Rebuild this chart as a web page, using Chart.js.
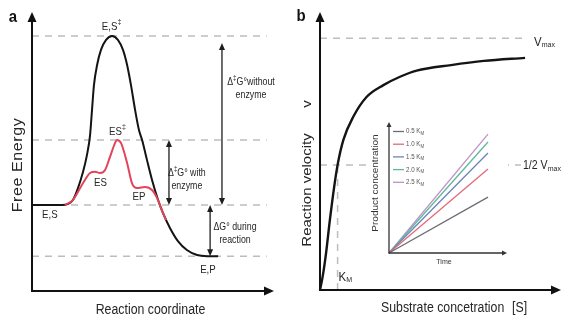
<!DOCTYPE html>
<html>
<head>
<meta charset="utf-8">
<script src="https://cdn.jsdelivr.net/npm/chart.js@4.4.1/dist/chart.umd.min.js"></script>
<style>
  html, body { margin: 0; padding: 0; background: #fff; }
  #stage { position: relative; width: 568px; height: 325px; overflow: hidden; }
  canvas { position: absolute; }
  #panelA { left: 0; top: 0; }
  #panelB { left: 284px; top: 0; }
  #inset { left: 367px; top: 112px; background: #fff; }
</style>
</head>
<body>
<div id="stage">
  <canvas id="panelA" width="284" height="325"></canvas>
  <canvas id="panelB" width="284" height="325"></canvas>
  <canvas id="inset" width="141" height="160"></canvas>
</div>
<script>
// ======================================================
// DATA - panel a (reaction coordinate 0-100, free energy 0-100)
// ======================================================

const coordUncat = [0, 12.4, 14.9, 16.9, 19.0, 21.1, 22.7, 24.0, 24.8, 25.6, 26.9, 28.5, 30.6, 33.1,
  35.5, 37.6, 39.3, 40.9, 42.6, 44.2, 45.5, 47.5, 49.6, 52.1, 54.1, 57.0, 60.3, 64.0, 68.2, 72.3, 76.9];
const energyUncat = [30.8, 30.8, 31.2, 32.6, 36.9, 42.7, 48.7, 55.9, 64.9, 73.8, 81.0, 86.4, 90.0, 91.4,
  90.0, 86.4, 81.0, 73.8, 64.9, 57.7, 54.1, 47.0, 39.8, 32.6, 28.0, 22.6, 17.9, 14.7, 12.9, 12.5, 12.5];

const coordCat = [13.6, 16.9, 21.1, 24.0, 26.0, 28.1, 30.2, 32.2, 34.3, 35.1, 36.8, 39.3, 41.3, 43.4,
  46.7, 49.6, 51.7, 54.1, 55.4];
const energyCat = [30.8, 32.6, 38.7, 42.3, 42.7, 42.3, 43.4, 48.0, 53.0, 54.1, 53.0, 45.9, 38.7, 36.9,
  37.3, 36.2, 33.3, 28.0, 25.4];

const energyLevels = [91.4, 54.1, 30.8, 12.5];
const levelLineEnd = 97;

const stateLabels = ["E,S", "ES", "ES", "EP", "E,S", "E,P"];
const stateDagger = [true, true, false, false, false, false];
const stateCoord = [32.9, 35.3, 28.3, 44.2, 7.4, 72.7];
const stateEnergy = [94.6, 57.0, 38.7, 33.7, 27.2, 7.5];

const barrierCoord = [78.5, 56.6, 73.6];
const barrierFrom = [30.8, 30.8, 12.5];
const barrierTo = [88.9, 54.1, 30.8];
const barrierLines = [
  [[["Δ", 10], ["‡", 7, -4], ["G°without", 10]], [["enzyme", 10]]],
  [[["Δ", 10], ["‡", 7, -4], ["G° with", 10]], [["enzyme", 10]]],
  [[["ΔG° during", 10]], [["reaction", 10]]],
];
const barrierTextCoord = [90.5, 64.0, 83.9];
const barrierTextEnergy = [72.6, 40.0, 20.6];

// ======================================================
// DATA - panel b (substrate 0-100, velocity 0-100)
// ======================================================

const substrate = [0, 1.1, 2.5, 4.1, 5.9, 7.3, 9.7, 13.8, 19.4, 26.3, 33.2, 40.1, 54.4, 68.0, 85.1];
const velocity = [0, 4.8, 13.2, 25.2, 37.2, 45.0, 54.0, 62.3, 69.5, 73.7, 76.7, 78.9, 80.9, 82.4, 83.5];
const vMax = 90.6;
const halfVMax = 45.0;
const kM = 7.3;
const vMaxLineEnd = 86.3;
const halfLineEnd = 83.4;

// inset: product vs time for several [S]
const insetLabels = ["0.5", "1.0", "1.5", "2.0", "2.5"];
const insetTimeEnd = 83.9;
const insetProduct = [42.7, 64.1, 76.3, 84.7, 90.8];
const insetColors = ["#6c6c76", "#e06a78", "#6c84bb", "#5fb89c", "#bb93c6"];

// ======================================================
// DRAW HELPERS
// ======================================================

const FONT = "'Liberation Sans', Arial, sans-serif";
const TEXT_COLOR = "#262626";
const SQUEEZE = 0.88;

function toPoints(xs, ys) {
  return xs.map((x, i) => ({ x, y: ys[i] }));
}

// parts: [text, size, dy]
function drawRich(ctx, x, y, parts, align = "center", rotate = false, opts = {}) {
  ctx.save();
  ctx.translate(x, y);
  ctx.scale(SQUEEZE, 1);
  if (rotate) ctx.rotate(-Math.PI / 2);
  ctx.fillStyle = opts.color || TEXT_COLOR;
  ctx.textBaseline = "middle";
  ctx.textAlign = "left";
  if (opts.spacing) ctx.letterSpacing = opts.spacing;
  const weight = opts.bold ? "bold " : "";
  let total = 0;
  parts.forEach((p) => {
    ctx.font = `${weight}${p[1]}px ${FONT}`;
    total += ctx.measureText(p[0]).width;
  });
  let cx = align === "center" ? -total / 2 : align === "right" ? -total : 0;
  parts.forEach((p) => {
    ctx.font = `${weight}${p[1]}px ${FONT}`;
    ctx.fillText(p[0], cx, p[2] || 0);
    cx += ctx.measureText(p[0]).width;
  });
  ctx.restore();
}

function arrowHead(ctx, tipX, tipY, dirX, dirY, len, half) {
  const bx = tipX - dirX * len;
  const by = tipY - dirY * len;
  ctx.beginPath();
  ctx.moveTo(tipX, tipY);
  ctx.lineTo(bx - dirY * half, by + dirX * half);
  ctx.lineTo(bx + dirY * half, by - dirX * half);
  ctx.closePath();
  ctx.fill();
}

function drawAxes(ctx, area, width, len, half, color) {
  ctx.save();
  ctx.strokeStyle = color;
  ctx.fillStyle = color;
  ctx.lineWidth = width;
  ctx.beginPath();
  ctx.moveTo(area.left, area.top + len - 1);
  ctx.lineTo(area.left, area.bottom);
  ctx.lineTo(area.right - len + 1, area.bottom);
  ctx.stroke();
  arrowHead(ctx, area.left, area.top, 0, -1, len, half);
  arrowHead(ctx, area.right, area.bottom, 1, 0, len, half);
  ctx.restore();
}

function drawDoubleArrow(ctx, x, yA, yB) {
  const dir = yB < yA ? -1 : 1;
  ctx.save();
  ctx.strokeStyle = "#1e1e1e";
  ctx.fillStyle = "#1e1e1e";
  ctx.lineWidth = 1.3;
  ctx.beginPath();
  ctx.moveTo(x, yA + dir * 6);
  ctx.lineTo(x, yB - dir * 6);
  ctx.stroke();
  arrowHead(ctx, x, yA, 0, -dir, 7, 3);
  arrowHead(ctx, x, yB, 0, dir, 7, 3);
  ctx.restore();
}

function baseOptions(padding) {
  return {
    responsive: false,
    animation: false,
    devicePixelRatio: 1,
    events: [],
    layout: { padding },
    plugins: { legend: { display: false }, tooltip: { enabled: false } },
    elements: { point: { radius: 0 } },
    scales: {
      x: { type: "linear", min: 0, max: 100, display: false },
      y: { type: "linear", min: 0, max: 100, display: false },
    },
  };
}

function dashedLine(points, order) {
  return {
    data: points,
    borderColor: "#bdbdbd",
    borderWidth: 1.5,
    borderDash: [7, 6],
    tension: 0,
    clip: false,
    order,
  };
}

// ======================================================
// PANEL A
// ======================================================

const panelADecor = {
  id: "panelADecor",
  afterDatasetsDraw(chart) {
    const { ctx, chartArea: area, scales: { x, y } } = chart;
    drawAxes(ctx, area, 2, 10, 4.5, "#111");

    barrierCoord.forEach((c, i) => {
      drawDoubleArrow(ctx, x.getPixelForValue(c), y.getPixelForValue(barrierFrom[i]), y.getPixelForValue(barrierTo[i]));
      const tx = x.getPixelForValue(barrierTextCoord[i]);
      const ty = y.getPixelForValue(barrierTextEnergy[i]);
      drawRich(ctx, tx, ty - 6.5, barrierLines[i][0]);
      drawRich(ctx, tx, ty + 6.5, barrierLines[i][1]);
    });

    stateLabels.forEach((label, i) => {
      const parts = [[label, 11]];
      if (stateDagger[i]) parts.push(["‡", 8, -5]);
      drawRich(ctx, x.getPixelForValue(stateCoord[i]), y.getPixelForValue(stateEnergy[i]), parts);
    });

    drawRich(ctx, 13, 17, [["a", 17]], "center", false, { bold: true, color: "#111" });
    drawRich(ctx, 150.5, 310, [["Reaction coordinate", 14]]);
    drawRich(ctx, 18, 165, [["Free Energy", 16]], "center", true, { spacing: "0.6px" });
  },
};

new Chart(document.getElementById("panelA"), {
  type: "line",
  data: {
    datasets: [
      {
        data: toPoints(coordCat, energyCat),
        borderColor: "#e2445a",
        borderWidth: 2,
        cubicInterpolationMode: "monotone",
        clip: false,
        order: 0,
      },
      {
        data: toPoints(coordUncat, energyUncat),
        borderColor: "#141414",
        borderWidth: 2,
        cubicInterpolationMode: "monotone",
        clip: false,
        order: 1,
      },
      ...energyLevels.map((level) => dashedLine([{ x: 0, y: level }, { x: levelLineEnd, y: level }], 10)),
    ],
  },
  options: baseOptions({ left: 32, top: 12, right: 10, bottom: 34 }),
  plugins: [panelADecor],
});

// ======================================================
// PANEL B
// ======================================================

const panelBDecor = {
  id: "panelBDecor",
  afterDatasetsDraw(chart) {
    const { ctx, chartArea: area, scales: { x, y } } = chart;
    drawAxes(ctx, area, 2, 10, 4.5, "#111");

    drawRich(ctx, area.right - 27, y.getPixelForValue(vMax) + 4, [["V", 13], ["max", 8, 3]], "left");
    drawRich(ctx, x.getPixelForValue(halfLineEnd) + 2, y.getPixelForValue(halfVMax) + 1,
      [["1/2 V", 12], ["max", 8, 3]], "left");
    drawRich(ctx, x.getPixelForValue(kM) + 1, area.bottom - 13, [["K", 13], ["M", 8, 3]], "left");

    drawRich(ctx, 17, 16, [["b", 17]], "center", false, { bold: true, color: "#111" });
    drawRich(ctx, 23, 190, [["Reaction velocity", 15]], "center", true);
    drawRich(ctx, 23, 104, [["v", 15]], "center", true);
    drawRich(ctx, 97, 308, [["Substrate concetration", 14]], "left");
    drawRich(ctx, 228, 308, [["[S]", 14]], "left");
  },
};

new Chart(document.getElementById("panelB"), {
  type: "line",
  data: {
    datasets: [
      {
        data: toPoints(substrate, velocity),
        borderColor: "#141414",
        borderWidth: 2.4,
        cubicInterpolationMode: "monotone",
        clip: false,
        order: 0,
      },
      dashedLine([{ x: 0, y: vMax }, { x: vMaxLineEnd, y: vMax }], 10),
      dashedLine([{ x: 0, y: halfVMax }, { x: halfLineEnd, y: halfVMax }], 10),
      dashedLine([{ x: kM, y: 0 }, { x: kM, y: halfVMax }], 10),
    ],
  },
  options: baseOptions({ left: 36, top: 12, right: 7, bottom: 35 }),
  plugins: [panelBDecor],
});

// ======================================================
// INSET
// ======================================================

const insetDecor = {
  id: "insetDecor",
  afterDatasetsDraw(chart) {
    const { ctx, chartArea: area } = chart;
    drawAxes(ctx, area, 1.3, 5, 2.5, "#333");

    insetLabels.forEach((label, i) => {
      const rowY = area.top + 9.5 + i * 12.7;
      ctx.save();
      ctx.strokeStyle = insetColors[i];
      ctx.lineWidth = 1.3;
      ctx.beginPath();
      ctx.moveTo(area.left + 4, rowY);
      ctx.lineTo(area.left + 15, rowY);
      ctx.stroke();
      ctx.restore();
      drawRich(ctx, area.left + 17, rowY, [[`${label} K`, 7], ["M", 5, 2]], "left", false, { color: "#555" });
    });

    drawRich(ctx, 9, 71, [["Product concentration", 10]], "center", true, { color: "#333" });
    drawRich(ctx, 77, 150, [["Time", 8]], "center", false, { color: "#333" });
  },
};

new Chart(document.getElementById("inset"), {
  type: "line",
  data: {
    datasets: insetProduct.map((p, i) => ({
      data: [{ x: 0, y: 0 }, { x: insetTimeEnd, y: p }],
      borderColor: insetColors[i],
      borderWidth: 1.3,
      tension: 0,
      clip: false,
    })),
  },
  options: baseOptions({ left: 22, top: 10, right: 1, bottom: 19 }),
  plugins: [insetDecor],
});
</script>
</body>
</html>
